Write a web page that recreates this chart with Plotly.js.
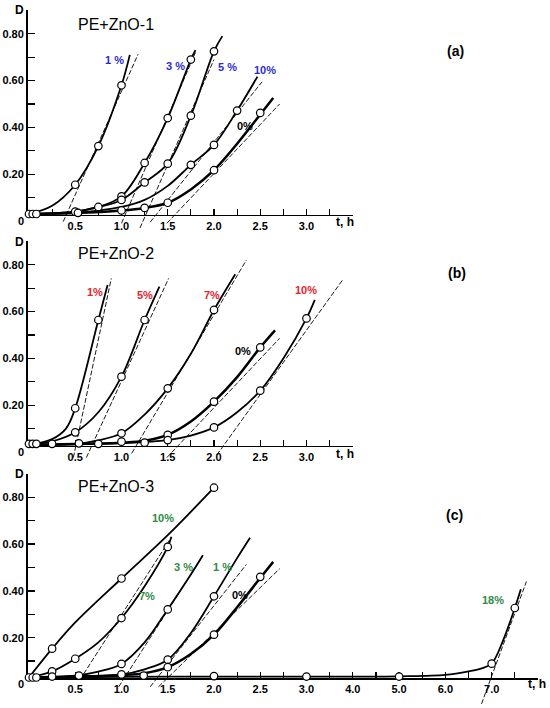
<!DOCTYPE html>
<html><head><meta charset="utf-8">
<script src="https://cdn.plot.ly/plotly-3.0.1.min.js"></script>
<style>html,body{margin:0;padding:0;background:#fff;}#chart{width:550px;height:708px;}</style>
</head><body><div id="chart"></div>
<script>
// ================= DATA =================
// ---- Panel (a) PE+ZnO-1 ----
const a1_pt_t = [0, 0.5, 0.75, 1.0];                    const a1_pt_D = [0.03, 0.155, 0.32, 0.58];
const a1_cv_t = [0, 0.25, 0.5, 0.75, 1.0, 1.09];       const a1_cv_D = [0.03, 0.065, 0.155, 0.32, 0.58, 0.71];
const a1_tn_t = [0.37, 1.18];                           const a1_tn_D = [-0.003, 0.713];

const a3_pt_t = [0.04, 0.5, 0.75, 1.0, 1.25, 1.5, 1.75]; const a3_pt_D = [0.03, 0.04, 0.06, 0.105, 0.248, 0.44, 0.69];
const a3_cv_t = [0, 0.5, 0.75, 1.0, 1.25, 1.5, 1.75, 1.8]; const a3_cv_D = [0.03, 0.04, 0.06, 0.105, 0.248, 0.44, 0.69, 0.73];
const a3_tn_t = [1.0, 1.8];                             const a3_tn_D = [-0.01, 0.72];

const a5_pt_t = [1.0, 1.25, 1.5, 1.75, 2.0];            const a5_pt_D = [0.09, 0.165, 0.245, 0.45, 0.725];
const a5_cv_t = [0, 0.5, 0.75, 1.0, 1.25, 1.5, 1.75, 2.0, 2.09]; const a5_cv_D = [0.03, 0.04, 0.06, 0.09, 0.165, 0.245, 0.45, 0.725, 0.79];
const a5_tn_t = [1.2, 2.0];                             const a5_tn_D = [-0.03, 0.69];

const a10_pt_t = [1.75, 2.0, 2.25];                     const a10_pt_D = [0.24, 0.325, 0.472];
const a10_cv_t = [0, 0.5, 1.0, 1.25, 1.5, 1.75, 2.0, 2.25, 2.47]; const a10_cv_D = [0.03, 0.035, 0.06, 0.09, 0.15, 0.24, 0.325, 0.472, 0.617];
const a10_tn_t = [1.31, 2.52];                          const a10_tn_D = [-0.005, 0.595];

const a0_pt_t = [0.08, 0.53, 1.0, 1.25, 1.5, 2.0, 2.5]; const a0_pt_D = [0.03, 0.035, 0.045, 0.056, 0.078, 0.217, 0.462];
const a0_cv_t = [0, 0.5, 1.0, 1.25, 1.5, 1.75, 2.0, 2.25, 2.5, 2.64]; const a0_cv_D = [0.03, 0.034, 0.045, 0.056, 0.078, 0.135, 0.217, 0.33, 0.455, 0.526];
const a0_tn_t = [1.49, 2.71];                           const a0_tn_D = [-0.01, 0.5];

// ---- Panel (b) PE+ZnO-2 ----
const b1_pt_t = [0, 0.5, 0.75];                          const b1_pt_D = [0.035, 0.187, 0.564];
const b1_cv_t = [0, 0.25, 0.4, 0.5, 0.75, 0.85];        const b1_cv_D = [0.03, 0.055, 0.1, 0.187, 0.564, 0.714];
const b1_tn_t = [0.48, 0.89];                            const b1_tn_D = [-0.024, 0.742];

const b5_pt_t = [0.04, 0.5, 1.0, 1.25];                  const b5_pt_D = [0.035, 0.084, 0.322, 0.564];
const b5_cv_t = [0, 0.25, 0.5, 0.75, 1.0, 1.25, 1.41];  const b5_cv_D = [0.03, 0.045, 0.084, 0.17, 0.322, 0.564, 0.707];
const b5_tn_t = [0.62, 1.51];                            const b5_tn_D = [-0.024, 0.742];

const b7_pt_t = [0.08, 0.54, 1.0, 1.5, 2.0];             const b7_pt_D = [0.035, 0.037, 0.08, 0.272, 0.607];
const b7_cv_t = [0, 0.5, 0.75, 1.0, 1.25, 1.5, 1.75, 2.0, 2.23]; const b7_cv_D = [0.03, 0.035, 0.05, 0.08, 0.16, 0.272, 0.42, 0.607, 0.76];
const b7_tn_t = [1.11, 2.35];                            const b7_tn_D = [-0.006, 0.82];

const b0_pt_t = [0.25, 0.75, 1.25, 1.5, 2.0, 2.5];       const b0_pt_D = [0.035, 0.035, 0.04, 0.073, 0.215, 0.447];
const b0_cv_t = [0, 0.5, 1.0, 1.25, 1.5, 1.75, 2.0, 2.25, 2.5, 2.66]; const b0_cv_D = [0.03, 0.034, 0.04, 0.048, 0.073, 0.13, 0.215, 0.32, 0.447, 0.52];
const b0_tn_t = [1.49, 2.71];                            const b0_tn_D = [-0.024, 0.486];

const b10_pt_t = [1.0, 1.5, 2.0, 2.5, 3.0];              const b10_pt_D = [0.044, 0.051, 0.105, 0.262, 0.571];
const b10_cv_t = [0, 0.5, 1.0, 1.5, 1.75, 2.0, 2.25, 2.5, 2.75, 3.0, 3.09]; const b10_cv_D = [0.03, 0.033, 0.038, 0.051, 0.07, 0.105, 0.17, 0.262, 0.4, 0.571, 0.65];
const b10_tn_t = [2.03, 3.39];                           const b10_tn_D = [-0.013, 0.735];

// ---- Panel (c) PE+ZnO-3 ----
const c10_pt_t = [0, 0.25, 1.0, 2.0];                    const c10_pt_D = [0.03, 0.153, 0.453, 0.841];
const c10_cv_t = [0, 0.25, 0.5, 1.0, 1.5, 2.0];          const c10_cv_D = [0.03, 0.153, 0.265, 0.453, 0.638, 0.841];

const c7_pt_t = [0.25, 0.5, 1.0, 1.5];                   const c7_pt_D = [0.056, 0.11, 0.284, 0.588];
const c7_cv_t = [0, 0.25, 0.5, 0.75, 1.0, 1.25, 1.5, 1.54]; const c7_cv_D = [0.03, 0.056, 0.11, 0.18, 0.284, 0.42, 0.588, 0.631];
const c7_tn_t = [0.55, 1.54];                            const c7_tn_D = [0.02, 0.63];

const c3_pt_t = [0.04, 0.54, 1.0, 1.5];                  const c3_pt_D = [0.03, 0.038, 0.088, 0.321];
const c3_cv_t = [0, 0.5, 0.75, 1.0, 1.25, 1.5, 1.75, 1.88]; const c3_cv_D = [0.03, 0.038, 0.055, 0.088, 0.18, 0.321, 0.47, 0.552];
const c3_tn_t = [0.97, 1.88];                            const c3_tn_D = [-0.01, 0.55];

const c1_pt_t = [1.0, 1.5, 2.0];                         const c1_pt_D = [0.043, 0.106, 0.377];
const c1_cv_t = [0, 0.5, 1.0, 1.25, 1.5, 1.75, 2.0, 2.25, 2.39]; const c1_cv_D = [0.03, 0.034, 0.043, 0.065, 0.106, 0.22, 0.377, 0.54, 0.627];
const c1_tn_t = [1.31, 2.35];                            const c1_tn_D = [-0.01, 0.513];

const c0_pt_t = [0.08, 1.24, 1.5, 2.0, 2.5];             const c0_pt_D = [0.03, 0.038, 0.074, 0.213, 0.46];
const c0_cv_t = [0, 0.5, 1.0, 1.25, 1.5, 1.75, 2.0, 2.25, 2.5, 2.64]; const c0_cv_D = [0.03, 0.034, 0.04, 0.048, 0.074, 0.13, 0.213, 0.33, 0.455, 0.524];
const c0_tn_t = [1.4, 2.71];                             const c0_tn_D = [-0.01, 0.495];

const c18_pt_t = [0.25, 2.0, 3.0, 5.0, 7.0, 7.5];        const c18_pt_D = [0.034, 0.036, 0.034, 0.034, 0.089, 0.327];
const c18_cv_t = [0, 1, 2, 3, 4, 5, 6, 6.5, 6.8, 7, 7.25, 7.5, 7.63]; const c18_cv_D = [0.03, 0.033, 0.034, 0.034, 0.034, 0.035, 0.041, 0.056, 0.07, 0.089, 0.19, 0.327, 0.407];
const c18_tn_t = [6.78, 7.75];                           const c18_tn_D = [-0.083, 0.44];

// Tick labels
const xTickVals = [0.25,0.5,0.75,1.0,1.25,1.5,1.75,2.0,2.25,2.5,2.75,3.0,3.25,3.5];
const xTickText = ['','0.5','','1.0','','1.5','','2.0','','2.5','','3.0','',''];
const xTickValsC1 = [0.25,0.5,0.75,1.0,1.25,1.5,1.75,2.0,2.25,2.5,2.75,3.0];
const xTickTextC1 = ['','0.5','','1.0','','1.5','','2.0','','2.5','','3.0'];
const xTickValsC2 = [3.5,4.0,4.5,5.0,5.5,6.0,6.5,7.0,7.5,8.0];
const xTickTextC2 = ['','4.0','','5.0','','6.0','','7.0','',''];
const yTickVals = [0.1,0.2,0.3,0.4,0.5,0.6,0.7,0.8,0.9];
const yTickText = ['','0.20','','0.40','','0.60','','0.80',''];

// Labels
const panelTitles = ['PE+ZnO-1','PE+ZnO-2','PE+ZnO-3'];
const panelTags = ['(a)','(b)','(c)'];
const a_names = ['1 %','3 %','5 %','10%','0%'];
const b_names = ['1%','5%','7%','0%','10%'];
const c_names = ['10%','7%','3 %','1 %','0%','18%'];

// ================= LAYOUT HELPERS =================
const W = 550, H = 708, S = 234;      // S: pixels per unit of D
const BLUE = '#2c2cd2', RED = '#e6232b', GREEN = '#2f8a45';
const XPX0 = 27.5, XS = 92.5, XS2 = 46.3;
const XLO = -0.016;
const panels = [ {Y0: 221, lo: -0.034}, {Y0: 452, lo: -0.034}, {Y0: 684.5, lo: -0.1} ];
const AXLEV = 0.026, YTOP = 0.9;
function ydom(Y0, dlo, dhi){ return [1 - (Y0 - S*dlo)/H, 1 - (Y0 - S*dhi)/H]; }
function px2x(p){ return p / W; }
function px2y(p){ return 1 - p / H; }

const xAB = [XPX0/W, (XPX0 + (3.5 - XLO)*XS)/W];
const xC1end = XPX0 + (3.0 - XLO)*XS;
const xC1 = [XPX0/W, xC1end/W];
const xC2 = [xC1end/W, (xC1end + 5*XS2)/W];

const tickFont = {family: 'Arial, "Liberation Sans", sans-serif', size: 11, color: '#000', weight: 'bold'};
function visY(i, anchor){
  return {domain: ydom(panels[i].Y0, AXLEV, YTOP), range: [AXLEV, YTOP], anchor: anchor,
    showline: true, linecolor: '#000', linewidth: 1.5, ticks: 'inside', ticklen: 7, tickwidth: 1.2, tickcolor: '#000',
    tickmode: 'array', tickvals: yTickVals, ticktext: yTickText, tickfont: tickFont, layer: 'below traces',
    showgrid: false, zeroline: false, fixedrange: true};
}
function hidY(i, anchor){
  return {domain: ydom(panels[i].Y0, panels[i].lo, YTOP), range: [panels[i].lo, YTOP], anchor: anchor,
    visible: false, showgrid: false, zeroline: false, fixedrange: true};
}
function visX(dom, rng, anchor, tv, tt){
  return {domain: dom, range: rng, anchor: anchor, showline: true, linecolor: '#000', linewidth: 1.5,
    ticks: 'inside', ticklen: 6, tickwidth: 1.2, tickcolor: '#000', tickmode: 'array', tickvals: tv, ticktext: tt,
    tickfont: tickFont, layer: 'below traces', showgrid: false, zeroline: false, fixedrange: true};
}

// ================= SERIES =================
const seriesA = [
  {pt:[a1_pt_t,a1_pt_D], cv:[a1_cv_t,a1_cv_D], tn:[a1_tn_t,a1_tn_D], w:1.8},
  {pt:[a3_pt_t,a3_pt_D], cv:[a3_cv_t,a3_cv_D], tn:[a3_tn_t,a3_tn_D], w:1.8},
  {pt:[a5_pt_t,a5_pt_D], cv:[a5_cv_t,a5_cv_D], tn:[a5_tn_t,a5_tn_D], w:1.8},
  {pt:[a10_pt_t,a10_pt_D], cv:[a10_cv_t,a10_cv_D], tn:[a10_tn_t,a10_tn_D], w:1.8},
  {pt:[a0_pt_t,a0_pt_D], cv:[a0_cv_t,a0_cv_D], tn:[a0_tn_t,a0_tn_D], w:2.5}
];
const seriesB = [
  {pt:[b1_pt_t,b1_pt_D], cv:[b1_cv_t,b1_cv_D], tn:[b1_tn_t,b1_tn_D], w:1.8},
  {pt:[b5_pt_t,b5_pt_D], cv:[b5_cv_t,b5_cv_D], tn:[b5_tn_t,b5_tn_D], w:1.8},
  {pt:[b7_pt_t,b7_pt_D], cv:[b7_cv_t,b7_cv_D], tn:[b7_tn_t,b7_tn_D], w:1.8},
  {pt:[b0_pt_t,b0_pt_D], cv:[b0_cv_t,b0_cv_D], tn:[b0_tn_t,b0_tn_D], w:2.5},
  {pt:[b10_pt_t,b10_pt_D], cv:[b10_cv_t,b10_cv_D], tn:[b10_tn_t,b10_tn_D], w:1.8}
];
const seriesC = [
  {pt:[c10_pt_t,c10_pt_D], cv:[c10_cv_t,c10_cv_D], tn:null, w:1.8},
  {pt:[c7_pt_t,c7_pt_D], cv:[c7_cv_t,c7_cv_D], tn:[c7_tn_t,c7_tn_D], w:1.8},
  {pt:[c3_pt_t,c3_pt_D], cv:[c3_cv_t,c3_cv_D], tn:[c3_tn_t,c3_tn_D], w:1.8},
  {pt:[c1_pt_t,c1_pt_D], cv:[c1_cv_t,c1_cv_D], tn:[c1_tn_t,c1_tn_D], w:1.8},
  {pt:[c0_pt_t,c0_pt_D], cv:[c0_cv_t,c0_cv_D], tn:[c0_tn_t,c0_tn_D], w:2.5},
  {pt:[c18_pt_t,c18_pt_D], cv:[c18_cv_t,c18_cv_D], tn:[c18_tn_t,c18_tn_D], w:1.8}
];

const lineTraces = [], markerTraces = [];
function curve(t, D, xa, ya, w){
  lineTraces.push({x: t, y: D, xaxis: xa, yaxis: ya, mode: 'lines', type: 'scatter', hoverinfo: 'skip',
    line: {color: '#000', width: w, shape: 'spline', smoothing: 1}, showlegend: false});
}
function tangent(t, D, xa, ya){
  lineTraces.push({x: t, y: D, xaxis: xa, yaxis: ya, mode: 'lines', type: 'scatter', hoverinfo: 'skip',
    line: {color: '#000', width: 0.9, dash: '5px,2px'}, showlegend: false});
}
function marks(t, D, xa, ya){
  markerTraces.push({x: t, y: D, xaxis: xa, yaxis: ya, mode: 'markers', type: 'scatter', cliponaxis: false, hoverinfo: 'skip',
    marker: {symbol: 'circle', size: 7.5, color: '#fff', line: {color: '#000', width: 1.2}}, showlegend: false});
}
function split(arrT, arrD, keep){
  const t = [], d = [];
  arrT.forEach((v, i) => { if (keep(v)) { t.push(v); d.push(arrD[i]); } });
  return [t, d];
}
seriesA.forEach(s => { curve(s.cv[0], s.cv[1], 'x', 'y', s.w); tangent(s.tn[0], s.tn[1], 'x', 'y'); marks(s.pt[0], s.pt[1], 'x', 'y2'); });
seriesB.forEach(s => { curve(s.cv[0], s.cv[1], 'x2', 'y3', s.w); tangent(s.tn[0], s.tn[1], 'x2', 'y3'); marks(s.pt[0], s.pt[1], 'x2', 'y4'); });
seriesC.forEach(s => {
  const L = split(s.cv[0], s.cv[1], v => v <= 3), R = split(s.cv[0], s.cv[1], v => v >= 3);
  if (L[0].length > 1) curve(L[0], L[1], 'x3', 'y5', s.w);
  if (R[0].length > 1) curve(R[0], R[1], 'x4', 'y5', s.w);
  if (s.tn) {
    if (s.tn[0][0] >= 3) tangent(s.tn[0], s.tn[1], 'x4', 'y5'); else tangent(s.tn[0], s.tn[1], 'x3', 'y5');
  }
  const PL = split(s.pt[0], s.pt[1], v => v < 3), PR = split(s.pt[0], s.pt[1], v => v >= 3);
  if (PL[0].length) marks(PL[0], PL[1], 'x3', 'y6');
  if (PR[0].length) marks(PR[0], PR[1], 'x4', 'y6');
});

// ================= ANNOTATIONS =================
const ann = [];
function txt(text, px, py, size, color, bold, xanchor){
  ann.push({text: bold ? '<b>' + text + '</b>' : text, xref: 'paper', yref: 'paper', x: px2x(px), y: px2y(py),
    xanchor: xanchor || 'center', yanchor: 'middle', showarrow: false,
    font: {family: 'Arial, "Liberation Sans", sans-serif', size: size, color: color}});
}
const titleY = [24, 253.5, 486.5], tagPos = [[455, 51], [457, 273], [454, 515]];
const dY = [10, 242, 474], zeroY = [221, 452, 684];
const thPos = [[345, 222], [345, 454], [537, 684]];
for (let i = 0; i < 3; i++) {
  txt(panelTitles[i], 116, titleY[i], 16, '#000', false);
  txt(panelTags[i], tagPos[i][0], tagPos[i][1], 14, '#000', true);
  txt('D', 19, dY[i], 12, '#000', true);
  txt('0', 21, zeroY[i], 11, '#000', true);
  txt('t, h', thPos[i][0], thPos[i][1], 12, '#000', true);
}
const aPos = [[115, 60], [175, 66], [227, 67], [265, 70], [245, 126]];
a_names.forEach((n, i) => txt(n, aPos[i][0], aPos[i][1], 11, n === '0%' ? '#000' : BLUE, true));
const bPos = [[95, 292], [145, 295], [212, 295], [243, 351], [306, 290]];
b_names.forEach((n, i) => txt(n, bPos[i][0], bPos[i][1], 11, n === '0%' ? '#000' : RED, true));
const cPos = [[163, 518], [147, 596], [183, 567], [222, 567], [240, 595], [493, 600]];
c_names.forEach((n, i) => txt(n, cPos[i][0], cPos[i][1], 11, n === '0%' ? '#000' : GREEN, true));

// ================= LAYOUT =================
const layout = {
  width: W, height: H, margin: {l: 0, r: 0, t: 0, b: 0, pad: 0},
  paper_bgcolor: '#fff', plot_bgcolor: 'rgba(0,0,0,0)', showlegend: false,
  font: {family: 'Arial, "Liberation Sans", sans-serif', color: '#000'},
  xaxis:  visX(xAB, [XLO, 3.5], 'y2', xTickVals, xTickText),
  xaxis2: visX(xAB, [XLO, 3.5], 'y4', xTickVals, xTickText),
  xaxis3: visX(xC1, [XLO, 3.0], 'y6', xTickValsC1, xTickTextC1),
  xaxis4: visX(xC2, [3.0, 8.0], 'y6', xTickValsC2, xTickTextC2),
  yaxis:  hidY(0, 'x'),  yaxis2: visY(0, 'x'),
  yaxis3: hidY(1, 'x2'), yaxis4: visY(1, 'x2'),
  yaxis5: hidY(2, 'x3'), yaxis6: visY(2, 'x3'),
  annotations: ann
};

Plotly.newPlot('chart', lineTraces.concat(markerTraces), layout, {staticPlot: true, displayModeBar: false});
</script>
</body></html>
